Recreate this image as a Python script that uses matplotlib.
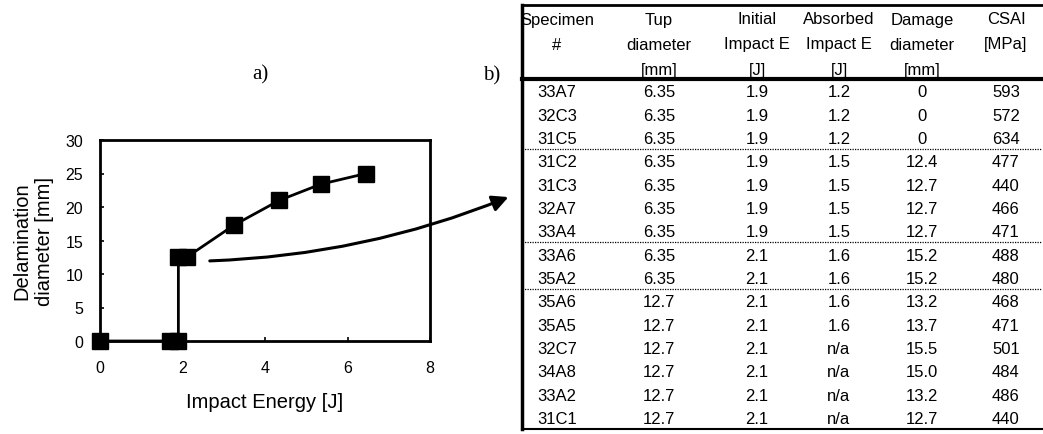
"""Delamination diameter vs impact energy (a) with specimen table (b)."""
import matplotlib
matplotlib.use("Agg")
import matplotlib.pyplot as plt
from matplotlib.patches import FancyArrowPatch

plt.rcParams["font.family"] = ["Liberation Sans", "DejaVu Sans"]

# panel a) data
energy = [0.0, 1.7, 1.9, 1.9, 2.1, 3.25, 4.35, 5.35, 6.45]
delam = [0.0, 0.0, 0.0, 12.5, 12.5, 17.3, 21.0, 23.4, 25.0]
x_ticks = [0, 2, 4, 6, 8]
y_ticks = [0, 5, 10, 15, 20, 25, 30]

# panel b) table
header = [
    ["Specimen", "#", ""],
    ["Tup", "diameter", "[mm]"],
    ["Initial", "Impact E", "[J]"],
    ["Absorbed", "Impact E", "[J]"],
    ["Damage", "diameter", "[mm]"],
    ["CSAI", "[MPa]", ""],
]
specimen = ["33A7", "32C3", "31C5", "31C2", "31C3", "32A7", "33A4", "33A6",
            "35A2", "35A6", "35A5", "32C7", "34A8", "33A2", "31C1"]
tup_diam = ["6.35"] * 9 + ["12.7"] * 6
init_e = ["1.9"] * 7 + ["2.1"] * 8
absorbed_e = ["1.2"] * 3 + ["1.5"] * 4 + ["1.6"] * 4 + ["n/a"] * 4
damage_diam = ["0", "0", "0", "12.4", "12.7", "12.7", "12.7", "15.2", "15.2",
               "13.2", "13.7", "15.5", "15.0", "13.2", "12.7"]
csai = ["593", "572", "634", "477", "440", "466", "471", "488", "480",
        "468", "471", "501", "484", "486", "440"]
group_breaks = [3, 7, 9]  # dotted lines after these rows

W, H = 1043, 435
fig = plt.figure(figsize=(W / 100, H / 100), dpi=100)

# ---- panel a) ----
ax = fig.add_axes([100 / W, 1 - 342 / H, 330 / W, 201 / H])
ax.plot(energy, delam, color="black", lw=2.0, marker="s", ms=11.5,
        mfc="black", mec="black", clip_on=False)
ax.set_xlim(0, 8)
ax.set_ylim(0, 30)
ax.set_xticks(x_ticks)
ax.set_yticks(y_ticks)
ax.tick_params(axis="both", direction="in", length=3, width=1.2, labelsize=11.5)
ax.tick_params(axis="x", pad=14)
ax.tick_params(axis="y", pad=12)
for sp in ax.spines.values():
    sp.set_linewidth(2.0)
ax.set_xlabel("Impact Energy [J]", fontsize=14.5, labelpad=12)
ax.set_ylabel("Delamination\ndiameter [mm]", fontsize=14.5, labelpad=8,
              linespacing=1.25)

# ---- overlay in pixel coordinates for labels, table and arrow ----
ov = fig.add_axes([0, 0, 1, 1])
ov.set_xlim(0, W)
ov.set_ylim(H, 0)
ov.axis("off")

ov.text(260, 75, "a)", family="Liberation Serif", fontsize=15,
        ha="center", va="center")
ov.text(492, 76, "b)", family="Liberation Serif", fontsize=15,
        ha="center", va="center")

t_left, t_right, t_top, t_hdr, t_bot = 522, 1042, 6, 80, 430
row_h = (t_bot - t_hdr) / len(specimen)
col_x = [557, 659, 757, 839, 922, 1006]
columns = [specimen, tup_diam, init_e, absorbed_e, damage_diam, csai]

ov.plot([t_left, t_right], [t_top, t_top], color="black", lw=2.0)
ov.plot([t_left, t_right], [t_hdr, t_hdr], color="black", lw=3.0)
ov.plot([t_left, t_right], [t_bot, t_bot], color="black", lw=1.5)
ov.plot([t_left, t_left], [t_top, t_bot], color="black", lw=2.5)
for b in group_breaks:
    yb = t_hdr + b * row_h
    ov.plot([t_left, t_right], [yb, yb], color="black", lw=0.9, ls=(0, (1, 1)))

for cx, lines in zip(col_x, header):
    for k, s in enumerate(lines):
        ov.text(cx, 20 + 25 * k, s, fontsize=12, ha="center", va="center")

for cx, vals in zip(col_x, columns):
    for i, v in enumerate(vals):
        ov.text(cx, t_hdr + (i + 0.55) * row_h, v, fontsize=12,
                ha="center", va="center")

arrow = FancyArrowPatch((207, 262), (511, 197),
                        connectionstyle="arc3,rad=0.09",
                        arrowstyle="-|>", mutation_scale=24,
                        lw=2.2, color="black")
ov.add_patch(arrow)

fig.savefig("out.png", dpi=100)
